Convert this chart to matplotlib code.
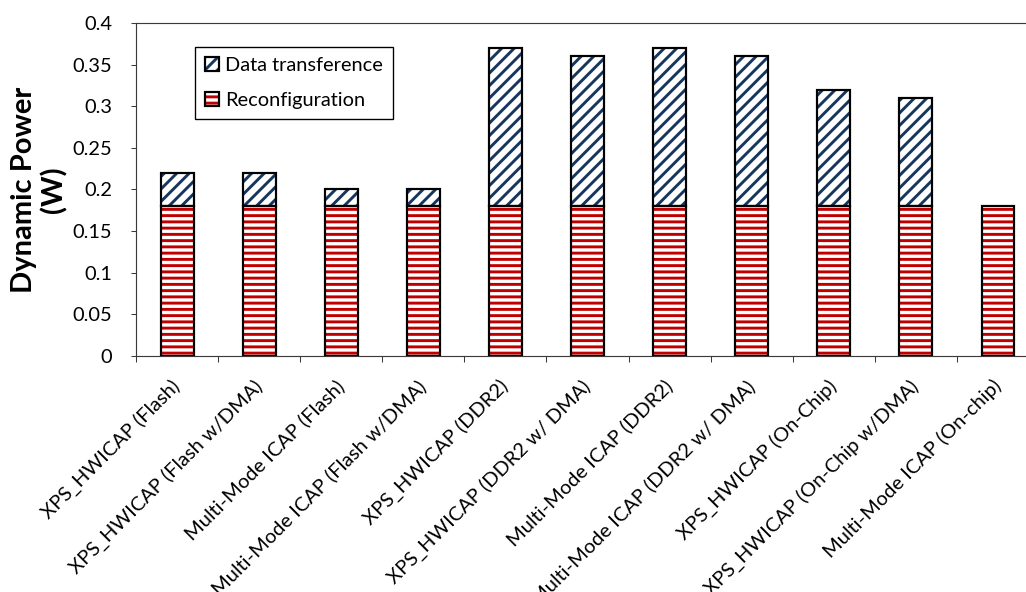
import matplotlib
matplotlib.use("Agg")
import matplotlib.pyplot as plt
import numpy as np
from matplotlib.legend_handler import HandlerTuple

# Categories and stacked values (W)
categories = [
    "XPS_HWICAP (Flash)",
    "XPS_HWICAP (Flash w/DMA)",
    "Multi-Mode ICAP (Flash)",
    "Multi-Mode ICAP (Flash w/DMA)",
    "XPS_HWICAP (DDR2)",
    "XPS_HWICAP (DDR2 w/ DMA)",
    "Multi-Mode ICAP (DDR2)",
    "Multi-Mode ICAP (DDR2 w/ DMA)",
    "XPS_HWICAP (On-Chip)",
    "XPS_HWICAP (On-Chip w/DMA)",
    "Multi-Mode ICAP (On-chip)",
]
reconfiguration = [0.18, 0.18, 0.18, 0.18, 0.18, 0.18, 0.18, 0.18, 0.18, 0.18, 0.18]
data_transference = [0.04, 0.04, 0.02, 0.02, 0.19, 0.18, 0.19, 0.18, 0.14, 0.13, 0.0]
y_ticks = [0, 0.05, 0.1, 0.15, 0.2, 0.25, 0.3, 0.35, 0.4]
y_tick_labels = ["0", "0.05", "0.1", "0.15", "0.2", "0.25", "0.3", "0.35", "0.4"]

RED = "#C00000"
NAVY = "#17365D"
AXIS = "#3A3A3A"
FONT = "Lato"

DPI = 75
plt.rcParams["font.family"] = [FONT, "DejaVu Sans"]
plt.rcParams["hatch.linewidth"] = 2.8

fig = plt.figure(figsize=(1026 / DPI, 592 / DPI), dpi=DPI)
ax = fig.add_axes([0.1326, 0.3991, 0.8801, 0.562])

x = np.arange(len(categories))
width = 0.4
recon = np.array(reconfiguration)
data = np.array(data_transference)

# Hatched fills (hatch colour comes from edgecolor), then black outlines
rec_fill = ax.bar(x, recon, width, color="white", edgecolor=RED, hatch="--",
                  linewidth=0, zorder=2)
dt_fill = ax.bar(x, data, width, bottom=recon, color="white", edgecolor=NAVY,
                 hatch="//", linewidth=0, zorder=2)
rec_edge = ax.bar(x, recon, width, fill=False, edgecolor="black",
                  linewidth=2.1, zorder=3)
dt_mask = data > 0
dt_edge = ax.bar(x[dt_mask], data[dt_mask], width, bottom=recon[dt_mask],
                 fill=False, edgecolor="black", linewidth=2.1, zorder=3)

ax.set_xlim(-0.5, len(categories) - 0.5)
ax.set_ylim(0, 0.4)
ax.set_yticks(y_ticks)
ax.set_yticklabels(y_tick_labels)

# Tick marks at category boundaries, labels at category centres
ax.set_xticks(np.arange(len(categories) + 1) - 0.5)
ax.set_xticklabels([])
ax.set_xticks(x, minor=True)
ax.set_xticklabels(categories, minor=True, rotation=45, ha="right",
                   va="center", rotation_mode="anchor", fontsize=19.2)
ax.tick_params(axis="x", which="major", direction="out", length=5.8,
               width=1.0, color=AXIS)
ax.tick_params(axis="x", which="minor", length=0, pad=26.4)
ax.tick_params(axis="y", direction="out", length=4.8, width=1.0, color=AXIS,
               labelsize=19.2, pad=18.2)

for side in ["left", "bottom", "top"]:
    ax.spines[side].set_color(AXIS)
    ax.spines[side].set_linewidth(1.1)
ax.spines["right"].set_visible(False)

ax.set_ylabel("Dynamic Power\n(W)", fontsize=28, fontweight="bold",
              linespacing=1.15, labelpad=5)

leg = ax.legend(
    [(dt_fill[0], dt_edge[0]), (rec_fill[0], rec_edge[0])],
    ["Data transference", "Reconfiguration"],
    handler_map={tuple: HandlerTuple(ndivide=1, pad=0)},
    loc="upper left", bbox_to_anchor=(0.0653, 0.928), borderaxespad=0,
    fontsize=19.2, frameon=True, fancybox=False, framealpha=1,
    edgecolor="black", handlelength=0.7, handleheight=0.7,
    handletextpad=0.3, borderpad=0.5, labelspacing=0.9,
)
leg.get_frame().set_linewidth(1.3)

fig.savefig("out.png", dpi=DPI)
